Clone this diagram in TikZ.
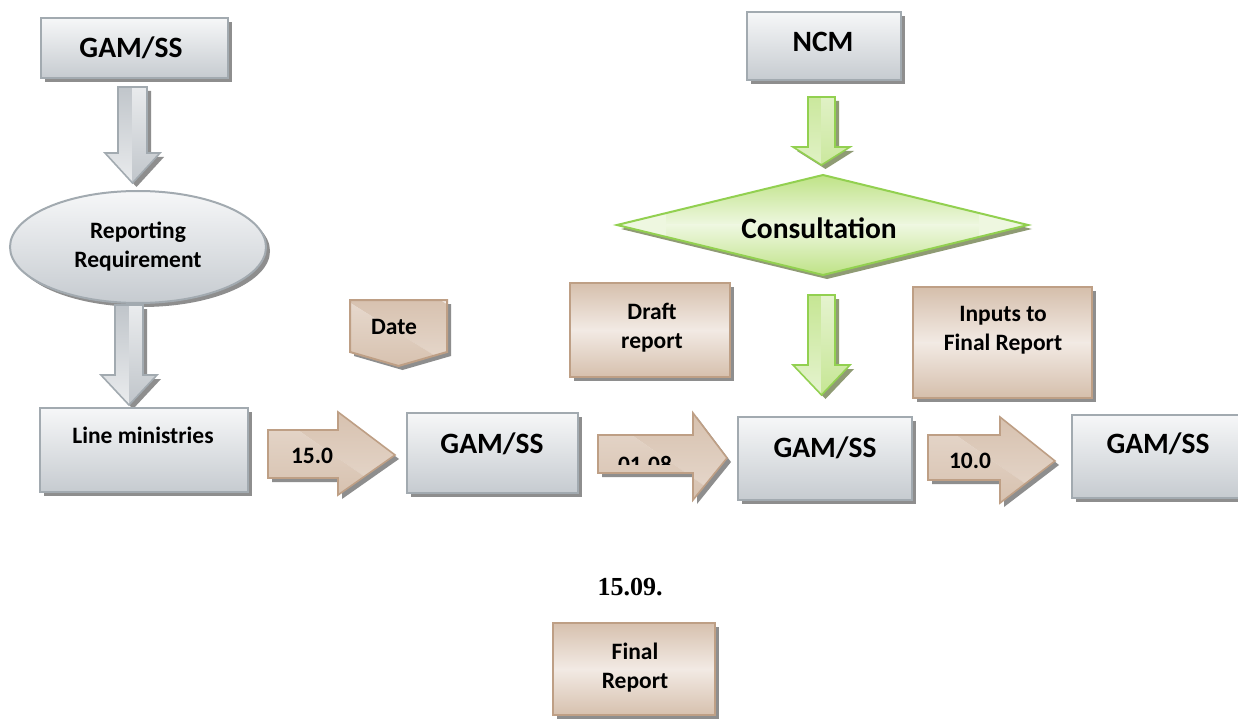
\documentclass[tikz,border=0pt]{standalone}
\usepackage{fontspec}
\setmainfont{Carlito}
\newfontfamily\serifbold{Liberation Serif}
\usetikzlibrary{shadows,shapes.geometric}
\definecolor{gfillA}{HTML}{F6F7F8}
\definecolor{gfillB}{HTML}{C6CBD0}
\definecolor{garrowD}{HTML}{B4BAC0}
\definecolor{gline}{HTML}{A2AAB0}
\definecolor{shad}{HTML}{8E8E8E}
\definecolor{brnlight}{HTML}{F2EAE4}
\definecolor{brndark}{HTML}{C2A286}
\definecolor{brnline}{HTML}{BE9F85}
\definecolor{grnlight}{HTML}{EEF7E0}
\definecolor{grndark}{HTML}{BDE283}
\definecolor{grnline}{HTML}{92D050}
\definecolor{grnshad}{HTML}{8F9B74}
\newcommand\fbig{\fontsize{29.5}{34}\selectfont\bfseries}
\newcommand\fsmall{\fontsize{23.5}{29}\selectfont\bfseries}
\tikzset{
  shd/.style={drop shadow={shadow xshift=4pt, shadow yshift=-4pt, fill=#1, opacity=1}},
  tri/.style n args={4}{path picture={
      \begin{scope}[shift={(path picture bounding box.center)}, rotate=#3, x=1pt, y=1pt]
        \shade[top color=#1, bottom color=#2] (-3*#4,0) rectangle (3*#4,#4);
        \shade[top color=#2, bottom color=#1] (-3*#4,-#4) rectangle (3*#4,0);
      \end{scope}}},
  graybox/.style={draw=gline, line width=2pt, top color=gfillA, bottom color=gfillB, shd=shad},
  brownbox/.style={draw=brnline, line width=2pt, fill=brnlight, tri={brndark}{brnlight}{-32}{#1}, shd=shad},
  greenshape/.style={draw=grnline, line width=2pt, fill=grnlight, tri={grndark}{grnlight}{0}{52}, shd=grnshad},
  grayarrow/.style={draw=gline, line width=1.6pt, fill=gfillA, tri={garrowD}{gfillA}{90}{26}, shd=shad},
  greenarrow/.style={draw=grnline, line width=1.6pt, fill=grnlight, tri={grndark}{grnlight}{90}{26}, shd=grnshad},
  brownarrow/.style={draw=brnline, line width=1.6pt, fill=brnlight, tri={brndark}{brnlight}{-35}{62}, shd=shad},
  bigtxt/.style={anchor=base, font=\fbig, inner sep=0pt},
  smtxt/.style={anchor=base, font=\fsmall, inner sep=0pt, align=center},
  rect/.style={rectangle, inner sep=0pt, outer sep=0pt}
}
\begin{document}
\begin{tikzpicture}[x=1pt,y=-1pt]
\clip (0,0) rectangle (1238,719);
\fill[white] (0,0) rectangle (1238,719);

% gray boxes
\node[graybox, rect, minimum width=187pt, minimum height=60pt] (gamA) at (134.5,48) {};
\node[bigtxt] at (131,58) {GAM/SS};

\draw[grayarrow] (118,87) -- (147,87) -- (147,153) -- (160,153) -- (132.5,183) -- (105,153) -- (118,153) -- cycle;

\node[graybox, ellipse, inner sep=0pt, minimum width=256pt, minimum height=112pt] (req) at (138,247) {};
\node[smtxt] at (138,267) {Reporting\\Requirement};

\draw[grayarrow] (115,305) -- (143,305) -- (143,375) -- (157,375) -- (129,405) -- (101,375) -- (115,375) -- cycle;

\node[graybox, rect, minimum width=208pt, minimum height=84pt] (line) at (144,450) {};
\node[smtxt] at (143,443) {Line ministries};

\node[graybox, rect, minimum width=171pt, minimum height=80pt] (gamB) at (492.5,453) {};
\node[bigtxt] at (492,453) {GAM/SS};

\node[graybox, rect, minimum width=174pt, minimum height=83pt] (gamC) at (825,458.5) {};
\node[bigtxt] at (825,457) {GAM/SS};

\node[graybox, rect, minimum width=180pt, minimum height=83pt] (gamD) at (1162,456.5) {};
\node[bigtxt] at (1158,453) {GAM/SS};

\node[graybox, rect, minimum width=154pt, minimum height=68pt] (ncm) at (824,46) {};
\node[bigtxt] at (823,52) {NCM};

% green
\draw[greenarrow] (808,97) -- (835,97) -- (835,147) -- (850,147) -- (821.5,165) -- (793,147) -- (808,147) -- cycle;
\draw[greenshape] (617,225) -- (823,175) -- (1028,225) -- (823,275) -- cycle;
\node[bigtxt] (cons) at (819,238) {Consultation};
\draw[greenarrow] (808,295) -- (835,295) -- (835,365) -- (850,365) -- (821.5,395) -- (793,365) -- (808,365) -- cycle;

% brown callouts
\draw[brownbox=50] (350,300) -- (447,300) -- (447,352) -- (398.5,366) -- (350,352) -- cycle;
\node[smtxt] (date) at (394,334) {Date};

\node[brownbox=80, rect, minimum width=160pt, minimum height=94pt] (draft) at (650,330) {};
\node[smtxt] at (652,348) {Draft\\report};

\node[brownbox=92, rect, minimum width=179pt, minimum height=111pt] (inputs) at (1002.5,342.5) {};
\node[smtxt] at (1003,350) {Inputs to\\Final Report};

\node[brownbox=80, rect, minimum width=162pt, minimum height=92pt] (final) at (634,669) {};
\node[smtxt] at (635,688) {Final\\Report};

\node[anchor=base, inner sep=0pt, font=\serifbold\bfseries\fontsize{26}{30}\selectfont] (date2) at (630,595) {15.09.};

% brown arrows
\draw[brownarrow] (268,430) -- (338,430) -- (338,412) -- (395,455) -- (338,495) -- (338,478) -- (268,478) -- cycle;
\node[smtxt] at (312,463) {15.0};

\draw[brownarrow] (598,435) -- (693,435) -- (693,413) -- (727,458) -- (693,500) -- (693,473) -- (598,473) -- cycle;
\begin{scope}
\clip (598,436) rectangle (700,464);
\node[smtxt] at (645,472) {01.08};
\end{scope}

\draw[brownarrow] (928,435) -- (1000,435) -- (1000,417) -- (1055,461) -- (1000,503) -- (1000,480) -- (928,480) -- cycle;
\node[smtxt] at (970,468) {10.0};
\end{tikzpicture}
\end{document}
